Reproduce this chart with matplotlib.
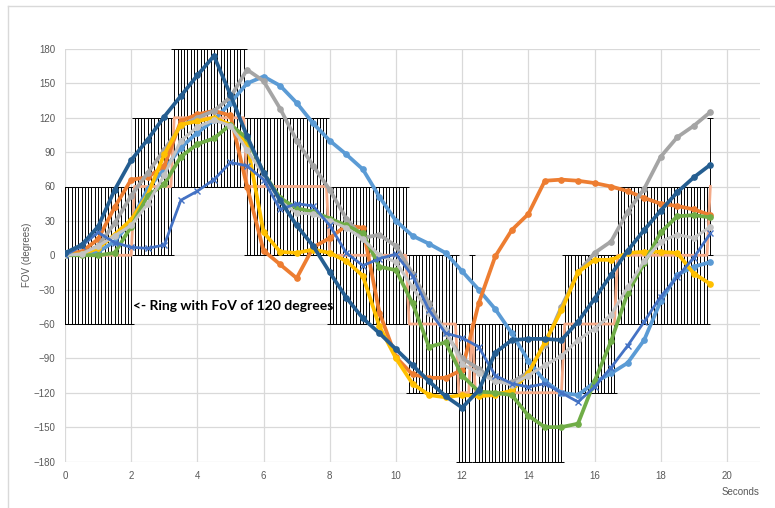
import numpy as np
import matplotlib
matplotlib.use("Agg")
import matplotlib.pyplot as plt
from matplotlib.lines import Line2D

# ---------------- data ----------------
# sample times (s) for the head-tracking series, every 0.5 s
t = np.arange(40) * 0.5

dark_blue = [2, 9, 25, 57, 83, 101, 121, 139, 157, 174,
             140, 104, 72, 48, 26, 8, -15, -37, -55, -68,
             -82, -96, -110, -123, -133, -118, -85, -74, -73, -73,
             -74, -58, -38, -17, 4, 22, 39, 55, 68, 79]
orange = [2, 3, 14, 42, 66, 68, 78, 117, 123, 126,
          122, 60, 4, -8, -20, 7, 15, 26, 24, -50,
          -89, -104, -107, -107, -100, -42, -1, 22, 36, 65,
          66, 65, 63, 60, 56, 50, 45, 43, 40, 35]
gray = [0, 1, 8, 28, 52, 72, 92, 113, 120, 126,
        138, 162, 152, 128, 100, 78, 57, 32, 15, 18,
        8, -16, -42, -68, -90, -99, -110, -111, -102, -78,
        -45, -15, 2, 12, 38, 58, 86, 103, 113, 125]
yellow = [0, 1, 6, 18, 31, 53, 88, 114, 117, 120,
          114, 98, 20, 3, 2, 5, 2, -5, -18, -62,
          -90, -112, -122, -124, -122, -123, -122, -118, -103, -76,
          -48, -15, -4, -4, 2, 3, 3, 2, -16, -25]
light_blue = [0, 1, 3, 12, 30, 58, 75, 94, 107, 118,
              133, 150, 156, 148, 133, 115, 100, 88, 75, 51,
              30, 17, 10, 2, -14, -30, -47, -68, -92, -110,
              -120, -122, -111, -103, -94, -74, -40, -17, -10, -6]
royal_blue = [0, 8, 20, 11, 7, 6, 9, 48, 56, 66,
              81, 78, 66, 40, 45, 43, 26, 2, -9, -3,
              1, -18, -48, -68, -72, -80, -105, -112, -115, -112,
              -120, -128, -115, -98, -79, -58, -36, -19, -2, 19]
green = [0, 0, 0, 2, 25, 52, 62, 86, 97, 102,
         114, 102, 72, 50, 41, 38, 32, 26, 19, -10,
         -13, -42, -80, -76, -105, -119, -120, -122, -140, -150,
         -150, -147, -110, -75, -33, -7, 20, 34, 35, 33]
light_gray = [0, 1, 8, 17, 26, 45, 70, 100, 112, 118,
              113, 92, 70, 47, 37, 36, 30, 24, 14, 0,
              -6, -28, -50, -65, -95, -103, -110, -113, -105, -96,
              -88, -74, -64, -52, -28, -5, 12, 18, 15, 25]

# ring (FoV 120 deg) sampled every 0.1 s: levels and number of samples at each level
ring_levels = [0, 60, 120, 60, 0, -60, -120, -60, -120, -60, 0, 60]
ring_counts = [21, 12, 22, 25, 24, 15, 4, 1, 27, 16, 28, 1]
ring_halfwidth = 60

x_ticks = [0, 2, 4, 6, 8, 10, 12, 14, 16, 18, 20]
y_ticks = [-180, -150, -120, -90, -60, -30, 0, 30, 60, 90, 120, 150, 180]

# ---------------- figure ----------------
W, H = 775, 508
fig = plt.figure(figsize=(W / 100, H / 100), dpi=100)
ax = fig.add_axes([65 / W, 1 - 461.5 / H, (760 - 65) / W, (461.5 - 49) / H])

ring_v = np.repeat(ring_levels, ring_counts)
ring_t = np.arange(len(ring_v)) * 0.1

ax.errorbar(ring_t, ring_v, yerr=ring_halfwidth, fmt='none', ecolor='black',
            elinewidth=0.7, capsize=2.5, capthick=0.7, zorder=2)
ax.plot(ring_t, ring_v, color='#F4AA88', lw=2.0, zorder=3)

series = [
    (light_blue, '#5B9BD5', 'o', 2.7),
    (orange, '#ED7D31', 'o', 2.7),
    (gray, '#A5A5A5', 'o', 2.7),
    (yellow, '#FFC000', 'o', 2.7),
    (green, '#70AD47', 'o', 2.7),
    (light_gray, '#C3C3C3', 'o', 2.2),
    (royal_blue, '#4472C4', 'x', 2.0),
    (dark_blue, '#255E91', 'o', 2.7),
]
for i, (vals, col, mk, lw) in enumerate(series):
    ax.plot(t, vals, color=col, lw=lw, marker=mk, markersize=3.8,
            markeredgewidth=1.0, zorder=4 + i)

ax.set_xlim(0, 21)
ax.set_ylim(-180, 180)
ax.set_xticks(x_ticks)
ax.set_yticks(y_ticks)
ax.grid(True, color='#D9D9D9', lw=0.9, zorder=0)
ax.set_axisbelow(True)
for s in ax.spines.values():
    s.set_visible(False)
ax.tick_params(length=0, labelsize=7, colors='#595959', pad=7)
for lab in ax.get_xticklabels() + ax.get_yticklabels():
    lab.set_family('Liberation Sans')

ax.set_ylabel('FOV (degrees)', fontsize=7, color='#595959', family='Liberation Sans')
ax.yaxis.set_label_coords(-(65 - 32) / (760 - 65), 0.5)

ax.text(2.06, -44, '<- Ring with FoV of 120 degrees', fontsize=10, fontweight='bold',
        family='Lato', color='black', va='center', ha='left', zorder=20)

fig.text(740 / W, 1 - 492 / H, 'Seconds', fontsize=7, color='#595959',
         family='Liberation Sans', ha='center', va='center')

# chart border
fig.add_artist(Line2D([7.5 / W, 7.5 / W], [0, 1 - 5.5 / H], color='#D9D9D9', lw=1, transform=fig.transFigure))
fig.add_artist(Line2D([7.5 / W, 1], [1 - 5.5 / H, 1 - 5.5 / H], color='#D9D9D9', lw=1, transform=fig.transFigure))

fig.savefig('out.png', dpi=100)
